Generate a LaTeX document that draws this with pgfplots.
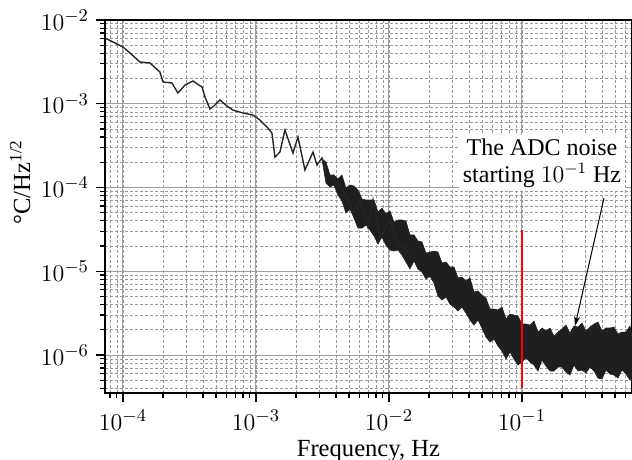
\documentclass[border=0pt]{standalone}
\usepackage{fontspec}
\setmainfont{Liberation Serif}
\usepackage{pgfplots}
\pgfplotsset{compat=1.18}
\usetikzlibrary{arrows.meta}
\begin{document}
\begin{tikzpicture}
\useasboundingbox (-52.5pt,-33.5pt) rectangle (263.5pt,196.5pt);
\begin{axis}[
  at={(0,0)}, anchor=south west,
  scale only axis, width=263.5pt, height=186.5pt,
  xmode=log, ymode=log,
  xmin=7.33e-5, xmax=0.6715, ymin=3.52e-7, ymax=1e-2,
  font=\fontsize{12.3}{14}\selectfont,
  tick pos=left, tick align=outside,
  major tick length=4.5pt, minor tick length=2.5pt,
  grid=both,
  major grid style={black!38, line width=0.5pt},
  minor grid style={black!40, dash pattern=on 1.5pt off 1pt, line width=0.35pt},
  axis line style={line width=0.8pt},
  every tick/.style={black, line width=0.6pt},
  xticklabel style={yshift=-0.5pt},
  xlabel={Frequency, Hz}, ylabel={°C/Hz\textsuperscript{1/2}},
  xlabel style={at={(axis description cs:0.5,-0.170)}, anchor=base},
  ylabel style={at={(axis description cs:-0.161,0.566)}, anchor=center},
]
% noisy band (upper edge left to right, lower edge right to left)
\addplot[fill=black!88, draw=black!88, line width=0.3pt] coordinates {
(3.135e-3,2.190e-4) (3.360e-3,2.016e-4) (3.601e-3,1.410e-4) (3.859e-3,1.410e-4)
(4.135e-3,1.263e-4) (4.432e-3,1.410e-4) (4.750e-3,9.86e-5) (5.091e-3,1.071e-4)
(5.455e-3,1.042e-4) (5.847e-3,9.34e-5) (6.266e-3,7.29e-5) (6.715e-3,7.09e-5)
(7.196e-3,7.09e-5) (7.713e-3,7.09e-5) (8.265e-3,5.10e-5) (8.859e-3,5.69e-5)
(9.493e-3,4.83e-5) (1.017e-2,5.24e-5) (1.090e-2,3.87e-5) (1.169e-2,4.09e-5)
(1.252e-2,4.09e-5) (1.342e-2,3.98e-5) (1.439e-2,2.71e-5) (1.542e-2,2.71e-5)
(1.652e-2,2.30e-5) (1.771e-2,2.236e-5) (1.898e-2,1.652e-5) (2.034e-2,1.698e-5)
(2.180e-2,1.745e-5) (2.336e-2,1.698e-5) (2.503e-2,1.254e-5) (2.683e-2,1.290e-5)
(2.875e-2,1.124e-5) (3.082e-2,1.124e-5) (3.303e-2,8.31e-6) (3.539e-2,8.54e-6)
(3.793e-2,7.65e-6) (4.064e-2,8.31e-6) (4.357e-2,5.65e-6) (4.669e-2,5.81e-6)
(5.004e-2,5.20e-6) (5.362e-2,4.79e-6) (5.747e-2,3.54e-6) (6.159e-2,3.54e-6)
(6.601e-2,3.45e-6) (7.073e-2,3.74e-6) (7.582e-2,2.69e-6) (8.125e-2,3.09e-6)
(8.708e-2,3.00e-6) (9.331e-2,2.92e-6) (0.1,2.345e-6) (0.1072,2.345e-6)
(0.1149,2.28e-6) (0.1231,2.547e-6) (0.1319,1.88e-6) (0.1414,2.10e-6)
(0.1515,1.934e-6) (0.1624,2.10e-6) (0.1740,1.686e-6) (0.1865,1.88e-6)
(0.1999,2.044e-6) (0.2142,2.28e-6) (0.2296,1.831e-6) (0.2460,2.22e-6)
(0.2637,2.159e-6) (0.2826,2.41e-6) (0.3029,1.934e-6) (0.3245,2.159e-6)
(0.3478,2.345e-6) (0.3727,2.477e-6) (0.3995,1.934e-6) (0.4281,2.10e-6)
(0.4588,2.10e-6) (0.4917,2.159e-6) (0.5270,1.781e-6) (0.5647,1.88e-6)
(0.6053,1.88e-6) (0.6486,2.22e-6) (0.6715,1.733e-6)
(0.6715,5.5e-7) (0.6486,5.03e-7) (0.6053,5.93e-7) (0.5647,6.62e-7)
(0.5270,5.31e-7) (0.4917,5.77e-7) (0.4588,5.93e-7) (0.4281,6.62e-7)
(0.3995,5.17e-7) (0.3727,5.31e-7) (0.3478,6.44e-7) (0.3245,7.19e-7)
(0.3029,6.10e-7) (0.2826,6.62e-7) (0.2637,6.44e-7) (0.2460,7.60e-7)
(0.2296,5.77e-7) (0.2142,6.27e-7) (0.1999,7.19e-7) (0.1865,7.19e-7)
(0.1740,6.44e-7) (0.1624,6.44e-7) (0.1515,7.39e-7) (0.1414,8.72e-7)
(0.1319,6.44e-7) (0.1231,7.60e-7) (0.1149,8.25e-7) (0.1072,9.21e-7)
(0.1,8.25e-7) (9.331e-2,7.60e-7) (8.708e-2,8.96e-7) (8.125e-2,1.086e-6)
(7.582e-2,8.96e-7) (7.073e-2,1.116e-6) (6.601e-2,1.281e-6) (6.159e-2,1.552e-6)
(5.747e-2,1.429e-6) (5.362e-2,1.640e-6) (5.004e-2,2.10e-6) (4.669e-2,2.62e-6)
(4.357e-2,2.28e-6) (4.064e-2,2.62e-6) (3.793e-2,3.17e-6) (3.539e-2,3.74e-6)
(3.303e-2,3.35e-6) (3.082e-2,3.74e-6) (2.875e-2,4.06e-6) (2.683e-2,4.93e-6)
(2.503e-2,4.54e-6) (2.336e-2,5.06e-6) (2.180e-2,7.24e-6) (2.034e-2,8.78e-6)
(1.898e-2,8.08e-6) (1.771e-2,9.79e-6) (1.652e-2,1.064e-5) (1.542e-2,1.326e-5)
(1.439e-2,1.064e-5) (1.342e-2,1.290e-5) (1.252e-2,1.563e-5) (1.169e-2,1.793e-5)
(1.090e-2,1.745e-5) (1.017e-2,1.793e-5) (9.493e-3,2.058e-5) (8.859e-3,2.56e-5)
(8.265e-3,2.116e-5) (7.713e-3,2.64e-5) (7.196e-3,3.11e-5) (6.715e-3,3.57e-5)
(6.266e-3,3.28e-5) (5.847e-3,3.28e-5) (5.455e-3,4.32e-5) (5.091e-3,5.54e-5)
(4.750e-3,4.96e-5) (4.432e-3,6.90e-5) (4.135e-3,8.14e-5) (3.859e-3,1.071e-4)
(3.601e-3,1.014e-4) (3.360e-3,1.132e-4)
} -- cycle;
% low-frequency part of the spectrum
\addplot[black!85, line width=0.7pt] coordinates {
(7.33e-5,6.10e-3) (1.0e-4,4.76e-3) (1.129e-4,4.04e-3) (1.342e-4,3.15e-3)
(1.596e-4,3.07e-3) (1.897e-4,2.39e-3) (2.0e-4,1.82e-3) (2.335e-4,1.77e-3)
(2.59e-4,1.343e-3) (2.93e-4,1.675e-3) (3.36e-4,1.87e-3) (3.93e-4,1.585e-3)
(4.14e-4,1.205e-3) (4.51e-4,8.65e-4) (4.92e-4,9.66e-4) (5.36e-4,1.109e-3)
(6.05e-4,9.40e-4) (6.71e-4,8.41e-4) (7.98e-4,7.76e-4) (9.49e-4,7.34e-4)
(1.072e-3,6.40e-4) (1.21e-3,5.27e-4) (1.318e-3,4.48e-4) (1.39e-3,2.31e-4)
(1.514e-3,2.65e-4) (1.652e-3,4.86e-4) (1.897e-3,2.58e-4) (2.07e-3,4.01e-4)
(2.335e-3,1.62e-4) (2.685e-3,2.65e-4) (2.875e-3,1.857e-4) (3.135e-3,2.25e-4)
(3.42e-3,1.49e-4) (4.06e-3,1.164e-4) (4.83e-3,7.71e-5) (5.36e-3,4.97e-5)
(6.05e-3,7.10e-5) (6.95e-3,3.37e-5) (7.59e-3,7.10e-5) (8.55e-3,2.49e-5)
(1.018e-2,4.09e-5) (1.148e-2,2.17e-5) (1.439e-2,1.65e-5)
};
% marker line at 0.1 Hz
\addplot[red, line width=1pt] coordinates {(0.1,3.1e-5) (0.1,4.0e-7)};
\node[fill=white, inner sep=2pt, align=center, font=\fontsize{12}{13.5}\selectfont]
  at (axis cs:0.1414,1.961e-4) {The ADC noise\\starting $10^{-1}$ Hz};
\draw[-{Stealth[length=5pt,width=3pt]}, line width=0.5pt]
  (axis cs:0.4136,7.49e-5) -- (axis cs:0.2503,2.22e-6);
\end{axis}
\end{tikzpicture}
\end{document}
